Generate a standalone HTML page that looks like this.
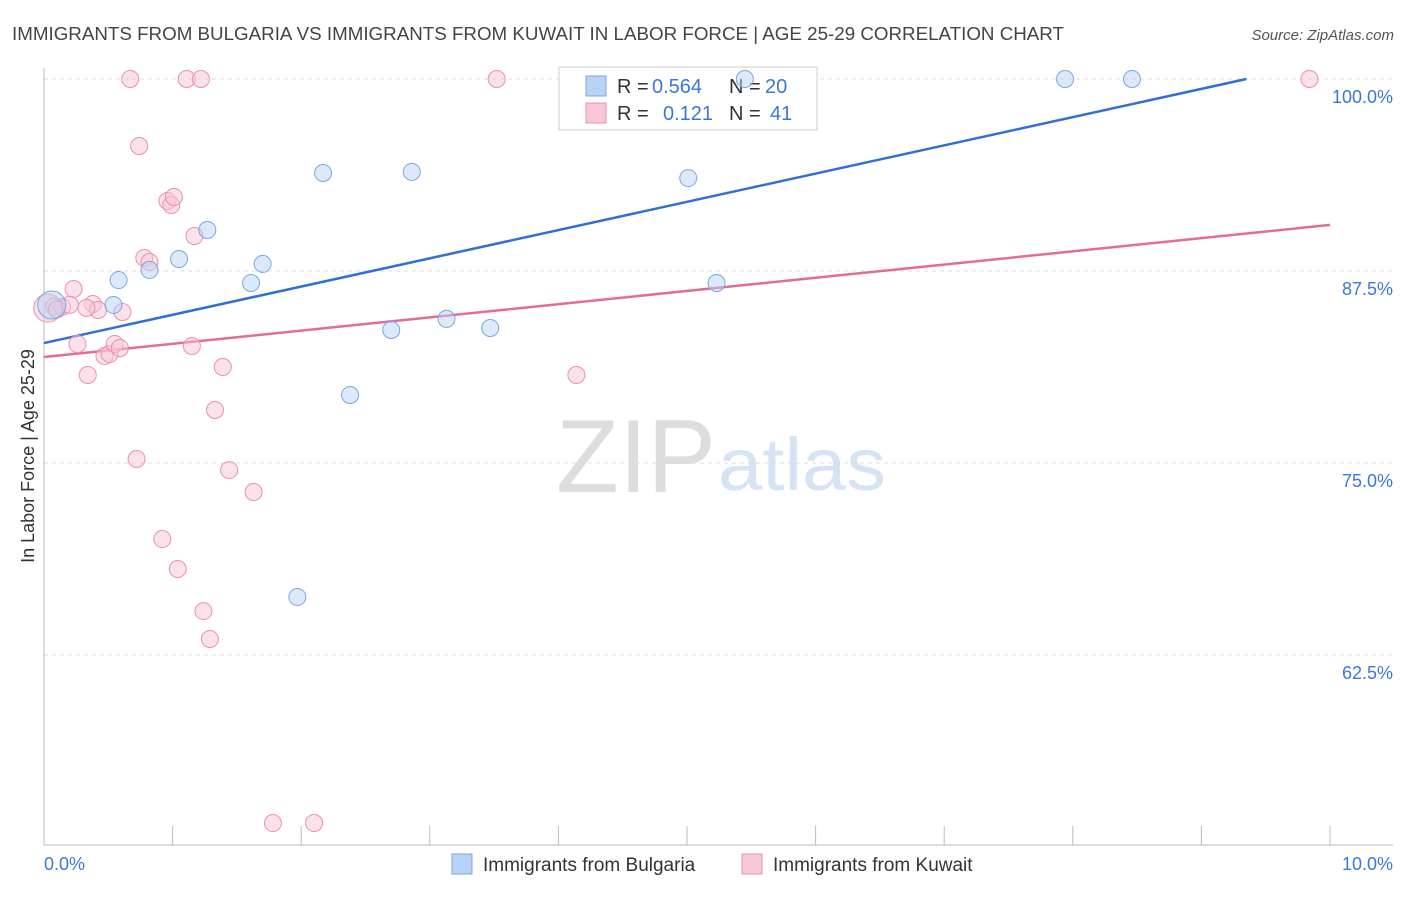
<!DOCTYPE html>
<html><head><meta charset="utf-8"><style>
body{margin:0;background:#fff;font-family:"Liberation Sans",sans-serif;}
svg text{font-family:"Liberation Sans",sans-serif;}
</style></head><body>
<svg id="chart" width="1406" height="892">
<text x="12" y="40" font-size="18" fill="#444" textLength="1052" lengthAdjust="spacingAndGlyphs">IMMIGRANTS FROM BULGARIA VS IMMIGRANTS FROM KUWAIT IN LABOR FORCE | AGE 25-29 CORRELATION CHART</text>
<text x="1394" y="40" font-size="15" fill="#555" font-style="italic" text-anchor="end">Source: ZipAtlas.com</text>
<text x="34" y="456" font-size="18" fill="#333" text-anchor="middle" transform="rotate(-90 34 456)">In Labor Force | Age 25-29</text>
<g>
<text x="556" y="492" font-size="104" fill="#ddd" font-family="Liberation Serif" textLength="160" lengthAdjust="spacingAndGlyphs">ZIP</text>
<text x="718" y="490" font-size="74" fill="#d5e3f5" textLength="168" lengthAdjust="spacingAndGlyphs">atlas</text>
</g>
<g id="grid"></g><g id="axes"></g>
<g>
<rect x="559" y="67" width="258" height="63" fill="#fff" stroke="#ccc"/>
<rect x="586" y="76" width="20" height="20" fill="#b8d3f5" stroke="#7aa6e0"/>
<text y="93" font-size="20" fill="#333"><tspan x="617">R =</tspan><tspan x="652" fill="#3a78d8">0.564</tspan><tspan x="729">N =</tspan><tspan x="765" fill="#3a78d8">20</tspan></text>
<rect x="586" y="103" width="20" height="20" fill="#f8c6d6" stroke="#eb8fae"/>
<text y="120" font-size="20" fill="#333"><tspan x="617">R =</tspan><tspan x="663" fill="#3a78d8">0.121</tspan><tspan x="729">N =</tspan><tspan x="770" fill="#3a78d8">41</tspan></text>
</g>
<g id="lines"></g><g id="pts"></g>
<g>
<rect x="452" y="854" width="20" height="20" fill="#b8d3f5" stroke="#7aa6e0"/>
<text x="483" y="871" font-size="19" fill="#333">Immigrants from Bulgaria</text>
<rect x="742" y="854" width="20" height="20" fill="#f8c6d6" stroke="#eb8fae"/>
<text x="773" y="871" font-size="19" fill="#333">Immigrants from Kuwait</text>
</g>
</svg>
<script>
const yTicks=[100,87.5,75,62.5];
const yTickLabels=["100.0%","87.5%","75.0%","62.5%"];
const xTickLabels=["0.0%","10.0%"];
const bulgariaX=[0.06,0.54,0.58,0.82,1.05,1.27,1.61,1.70,1.97,2.17,2.38,2.70,2.86,3.13,3.47,5.01,5.23,5.45,7.94,8.46];
const bulgariaY=[85.29,85.29,86.91,87.57,88.28,90.17,86.72,87.96,66.28,93.88,79.43,83.66,93.95,84.38,83.79,93.55,86.72,100,100,100];
const kuwaitX=[0.03,0.14,0.23,0.26,0.34,0.38,0.42,0.47,0.51,0.55,0.59,0.61,0.67,0.72,0.74,0.78,0.82,0.92,0.96,0.99,1.01,1.04,1.11,1.15,1.17,1.22,1.24,1.29,1.33,1.39,1.44,1.63,1.78,2.10,3.52,4.14,9.84,0.08,0.10,0.20,0.33];
const kuwaitY=[85.09,85.16,86.33,82.75,80.73,85.35,84.96,81.97,82.10,82.75,82.49,84.83,100,75.26,95.64,88.35,88.09,70.05,92.06,91.80,92.32,68.10,100,82.62,89.78,100,65.36,63.54,78.45,81.25,74.54,73.11,51.56,51.56,100,80.73,100,85.2,85.0,85.3,85.1];
const bulgariaLine=[0,82.81,9.35,100];
const kuwaitLine=[0,81.9,10,90.5];
const NS="http://www.w3.org/2000/svg";
const X=v=>44+v*128.6, Y=v=>79+(100-v)*15.36;
function mk(p,t,a){const e=document.createElementNS(NS,t);for(const k in a)e.setAttribute(k,a[k]);p.appendChild(e);return e;}
const grid=document.getElementById('grid'),axes=document.getElementById('axes');
yTicks.forEach((t,i)=>{
 const l=mk(grid,'line',{x1:44,x2:1393,y1:Y(t),y2:Y(t),stroke:'#ddd','stroke-dasharray':'4,4'});
 
 
 const tx=mk(axes,'text',{x:1393,y:Y(t)+24,'font-size':18,fill:'#3a78d8','text-anchor':'end'});
 tx.textContent=yTickLabels[i];
 
 
});
const ax=mk(axes,'line',{x1:44,x2:44,y1:68,y2:845,stroke:'#bbb'});


const bx=mk(axes,'line',{x1:44,x2:1393,y1:845,y2:845,stroke:'#bbb'});


for(let i=1;i<=10;i++){const t=mk(axes,'line',{x1:X(i),x2:X(i),y1:826,y2:845,stroke:'#bbb'});
 
 }
[[0,'start',44],[10,'end',1393]].forEach((d,i)=>{const t=mk(axes,'text',{x:d[2],y:870,'font-size':18,fill:'#3a78d8','text-anchor':d[1]});t.textContent=xTickLabels[i];
 
 });
const lines=document.getElementById('lines'),pts=document.getElementById('pts');
function pointsFor(xs,ys,fill,stroke,name){xs.forEach((x,i)=>{const c=mk(pts,'circle',{cx:X(x),cy:Y(ys[i]),r:(i===0?14:8.5),fill:fill,'fill-opacity':0.5,stroke:stroke,'stroke-width':1});
 
 });}
pointsFor(kuwaitX,kuwaitY,'#f8c6d6','#eb8fae','kuwait-point');
pointsFor(bulgariaX,bulgariaY,'#b8d3f5','#7aa6e0','bulgaria-point');
const l1=mk(lines,'line',{x1:X(bulgariaLine[0]),y1:Y(bulgariaLine[1]),x2:X(bulgariaLine[2]),y2:Y(bulgariaLine[3]),stroke:'#2f6fd6','stroke-width':2.5});


const l2=mk(lines,'line',{x1:X(kuwaitLine[0]),y1:Y(kuwaitLine[1]),x2:X(kuwaitLine[2]),y2:Y(kuwaitLine[3]),stroke:'#e56b96','stroke-width':2.5});


</script>
</body></html>
